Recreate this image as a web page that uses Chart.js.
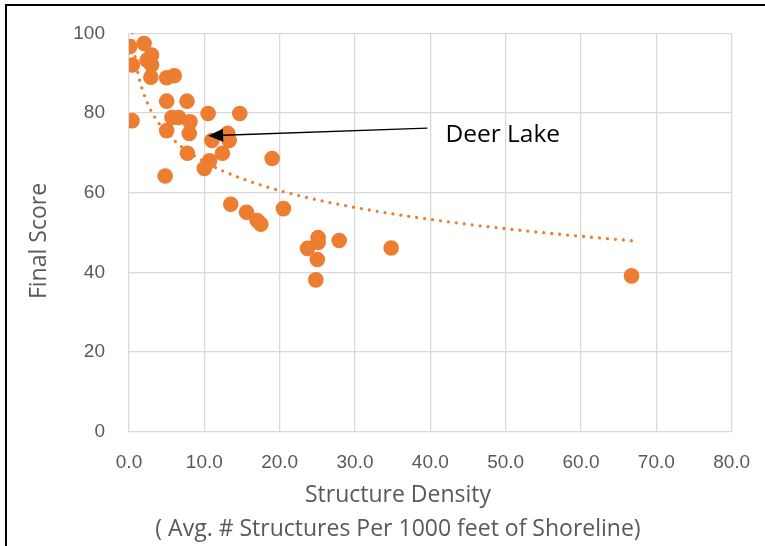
<!DOCTYPE html>
<html>
<head>
<meta charset="utf-8">
<script src="https://cdn.jsdelivr.net/npm/chart.js@4"></script>
<style>
  html, body { margin: 0; padding: 0; background: #fff; overflow: hidden; }
  #frame { position: absolute; left: 5px; top: 4px; width: 800px; height: 600px;
           border-left: 2px solid #000; border-top: 2px solid #000; }
  #chart { position: absolute; left: 0; top: 0; }
</style>
</head>
<body>
<div id="frame"></div>
<canvas id="chart" width="765" height="546"></canvas>
<script>
// structures per 1000 ft of shoreline vs final score, one entry per lake
const density = [0.08, 2.0, 3.0, 0.45, 2.4, 3.0, 2.9, 5.0, 6.0, 5.0, 7.7, 10.5, 14.7, 0.4,
  5.7, 6.6, 8.1, 5.0, 8.0, 13.1, 11.0, 13.3, 7.75, 12.4, 19.0, 10.7, 10.0, 4.8,
  13.5, 15.6, 17.0, 17.5, 20.5, 25.1, 25.1, 23.7, 27.9, 34.8, 25.0, 24.8, 66.7];
const finalScore = [96.7, 97.5, 94.6, 92.1, 93.3, 92.1, 89.0, 88.9, 89.4, 83.0, 83.0, 79.9, 79.9, 78.1,
  78.9, 78.9, 77.8, 75.6, 74.9, 74.9, 73.1, 73.1, 69.9, 69.9, 68.6, 68.0, 66.1, 64.2,
  57.1, 55.1, 53.0, 52.1, 56.0, 48.7, 47.5, 46.0, 48.0, 46.1, 43.2, 38.1, 39.1];

const xTicks = [0, 10, 20, 30, 40, 50, 60, 70, 80];
const yTicks = [0, 20, 40, 60, 80, 100];

const xTitle = ['Structure Density', '( Avg. # Structures Per 1000 feet of Shoreline)'];
const yTitle = 'Final Score';

// callout for Deer Lake (data coordinates)
const calloutText = 'Deer Lake';
const arrowFrom = [39.6, 76.2];
const arrowTo = [10.5, 74.3];
const calloutAt = [42.0, 72.8];

const orange = '#ED7D31';
const grey = '#595959';

// logarithmic trendline, least squares on ln(x) like Excel does
let sl = 0, sy = 0, sll = 0, sly = 0;
density.forEach((d, i) => {
  const l = Math.log(d);
  sl += l; sy += finalScore[i]; sll += l * l; sly += l * finalScore[i];
});
const n = density.length;
const slope = (n * sly - sl * sy) / (n * sll - sl * sl);
const intercept = (sy - slope * sl) / n;
const xMin = Math.min(...density), xMax = Math.max(...density);
const trend = [];
for (let i = 0; i <= 400; i++) {
  const x = xMin + (xMax - xMin) * i / 400;
  trend.push({ x: x, y: intercept + slope * Math.log(x) });
}

const callout = {
  id: 'callout',
  afterDatasetsDraw(chart) {
    const { ctx, scales: { x, y } } = chart;
    const x1 = x.getPixelForValue(arrowFrom[0]), y1 = y.getPixelForValue(arrowFrom[1]);
    const x2 = x.getPixelForValue(arrowTo[0]), y2 = y.getPixelForValue(arrowTo[1]);
    const ang = Math.atan2(y2 - y1, x2 - x1);
    const len = 15, half = 6.5;
    const bx = x2 - len * Math.cos(ang), by = y2 - len * Math.sin(ang);
    ctx.save();
    ctx.strokeStyle = '#000';
    ctx.fillStyle = '#000';
    ctx.lineWidth = 1.3;
    ctx.beginPath();
    ctx.moveTo(x1, y1);
    ctx.lineTo(bx, by);
    ctx.stroke();
    ctx.beginPath();
    ctx.moveTo(x2, y2);
    ctx.lineTo(bx + half * Math.sin(ang), by - half * Math.cos(ang));
    ctx.lineTo(bx - half * Math.sin(ang), by + half * Math.cos(ang));
    ctx.closePath();
    ctx.fill();
    ctx.font = "24.5px 'Open Sans'";
    ctx.textBaseline = 'alphabetic';
    ctx.fillText(calloutText, x.getPixelForValue(calloutAt[0]), y.getPixelForValue(calloutAt[1]));
    ctx.restore();
  },
  afterDraw(chart) {
    const { ctx } = chart;
    ctx.save();
    ctx.fillStyle = grey;
    ctx.font = "23px 'Open Sans'";
    ctx.textAlign = 'center';
    ctx.textBaseline = 'middle';
    ctx.fillText(xTitle[0], 398, 495);
    ctx.fillText(xTitle[1], 398, 529);
    ctx.translate(39, 241);
    ctx.rotate(-Math.PI / 2);
    ctx.fillText(yTitle, 0, 0);
    ctx.restore();
  }
};

new Chart(document.getElementById('chart'), {
  type: 'scatter',
  data: {
    datasets: [
      {
        data: trend,
        showLine: true,
        pointRadius: 0,
        borderColor: orange,
        borderWidth: 3.3,
        borderDash: [0, 8],
        borderCapStyle: 'round',
        tension: 0,
        order: 0
      },
      {
        data: density.map((d, i) => ({ x: d, y: finalScore[i] })),
        backgroundColor: orange,
        borderColor: orange,
        borderWidth: 0,
        pointRadius: 7.8,
        order: 1
      }
    ]
  },
  options: {
    responsive: false,
    animation: false,
    devicePixelRatio: 1,
    layout: { padding: { top: 33.5, right: 33.3, bottom: 0, left: 0 } },
    plugins: { legend: { display: false }, tooltip: { enabled: false } },
    scales: {
      x: {
        type: 'linear',
        min: 0, max: 80,
        afterBuildTicks: (s) => { s.ticks = xTicks.map(v => ({ value: v })); },
        afterFit: (s) => { s.height = 114.5; s.paddingLeft = 0; s.paddingRight = 0; },
        grid: { color: '#d9d9d9', lineWidth: 1.3, drawTicks: false },
        border: { display: false },
        ticks: {
          color: grey, padding: 20, maxRotation: 0, autoSkip: false,
          font: { size: 19 },
          callback: (v) => v.toFixed(1)
        }
      },
      y: {
        type: 'linear',
        min: 0, max: 100,
        afterBuildTicks: (s) => { s.ticks = yTicks.map(v => ({ value: v })); },
        afterFit: (s) => { s.width = 129; s.paddingTop = 0; s.paddingBottom = 0; },
        grid: { color: '#d9d9d9', lineWidth: 1.3, drawTicks: false },
        border: { display: false },
        ticks: { color: grey, padding: 24, font: { size: 19 } }
      }
    }
  },
  plugins: [callout]
});
</script>
</body>
</html>
